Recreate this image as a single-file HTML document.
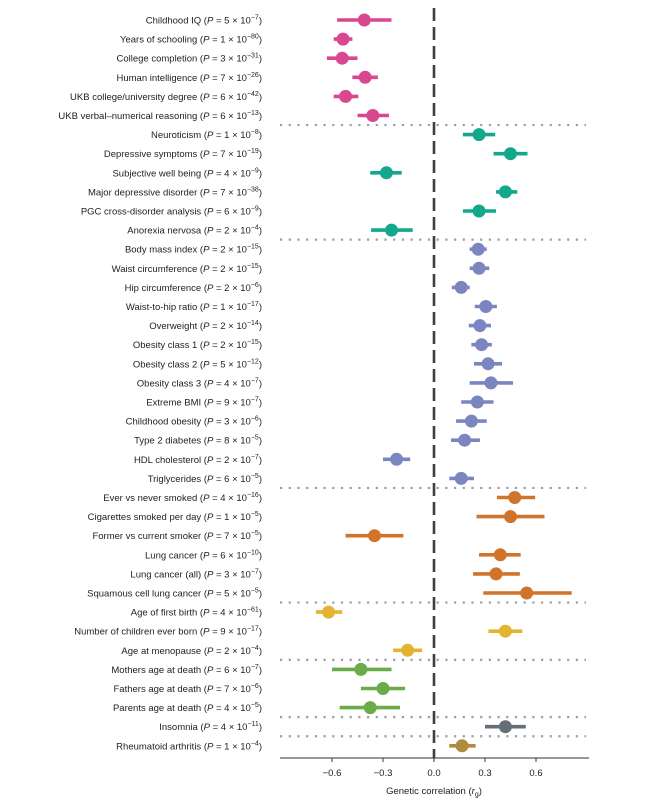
<!DOCTYPE html>
<html><head><meta charset="utf-8"><style>
body{margin:0;background:#fff;}
svg{display:block;font-family:"Liberation Sans",Arial,sans-serif;}
</style></head><body>
<svg id="chart" width="664" height="807" xmlns="http://www.w3.org/2000/svg"></svg>
<script>
const labels=["Childhood IQ","Years of schooling","College completion","Human intelligence","UKB college/university degree","UKB verbal–numerical reasoning","Neuroticism","Depressive symptoms","Subjective well being","Major depressive disorder","PGC cross-disorder analysis","Anorexia nervosa","Body mass index","Waist circumference","Hip circumference","Waist-to-hip ratio","Overweight","Obesity class 1","Obesity class 2","Obesity class 3","Extreme BMI","Childhood obesity","Type 2 diabetes","HDL cholesterol","Triglycerides","Ever vs never smoked","Cigarettes smoked per day","Former vs current smoker","Lung cancer","Lung cancer (all)","Squamous cell lung cancer","Age of first birth","Number of children ever born","Age at menopause","Mothers age at death","Fathers age at death","Parents age at death","Insomnia","Rheumatoid arthritis"];
const pMant=[5,1,3,7,6,6,1,7,4,7,6,2,2,2,2,1,2,2,5,4,9,3,8,2,6,4,1,7,6,3,5,4,9,2,6,7,4,4,1];
const pExp=[-7,-80,-31,-26,-42,-13,-8,-19,-9,-38,-9,-4,-15,-15,-6,-17,-14,-15,-12,-7,-7,-6,-5,-7,-5,-16,-5,-5,-10,-7,-5,-61,-17,-4,-7,-6,-5,-11,-4];
const rg=[-0.41,-0.535,-0.54,-0.405,-0.52,-0.36,0.265,0.45,-0.28,0.42,0.265,-0.25,0.26,0.265,0.16,0.305,0.27,0.28,0.318,0.335,0.255,0.22,0.18,-0.22,0.16,0.475,0.45,-0.35,0.39,0.365,0.545,-0.62,0.42,-0.155,-0.43,-0.3,-0.375,0.42,0.165];
const lo=[-0.57,-0.59,-0.63,-0.48,-0.59,-0.45,0.17,0.35,-0.375,0.365,0.17,-0.37,0.21,0.21,0.105,0.24,0.205,0.22,0.235,0.21,0.16,0.13,0.1,-0.30,0.09,0.37,0.25,-0.52,0.265,0.23,0.29,-0.695,0.32,-0.24,-0.6,-0.43,-0.555,0.3,0.09];
const hi=[-0.25,-0.48,-0.45,-0.33,-0.445,-0.265,0.36,0.55,-0.19,0.49,0.365,-0.125,0.31,0.325,0.21,0.37,0.335,0.34,0.4,0.465,0.35,0.31,0.27,-0.14,0.235,0.595,0.65,-0.18,0.51,0.505,0.81,-0.54,0.52,-0.07,-0.25,-0.17,-0.2,0.54,0.245];
const groupOf=[0,0,0,0,0,0,1,1,1,1,1,1,2,2,2,2,2,2,2,2,2,2,2,2,2,3,3,3,3,3,3,4,4,4,5,5,5,6,7];
const groupColors=["#d8478f","#13a88c","#7b86c0","#d0742b","#e3b42f","#6aab4a","#656e76","#b08a3e"];
const ticks=[-0.6,-0.3,0,0.3,0.6];
const tickLabels=["−0.6","−0.3","0.0","0.3","0.6"];

const NS="http://www.w3.org/2000/svg";
const svg=document.getElementById('chart');
const x=v=>434+v*170;
const y=i=>20+i*19.1;
function mk(tag,attrs,parent){const e=document.createElementNS(NS,tag);for(const k in attrs)e.setAttribute(k,attrs[k]);(parent||svg).appendChild(e);return e;}

// separators
for(let i=1;i<labels.length;i++){
  if(groupOf[i]!==groupOf[i-1]){
    const l=mk('line',{x1:280,x2:586,y1:y(i-0.5),y2:y(i-0.5),stroke:'#9a9ea3','stroke-width':2.2,'stroke-dasharray':'2.2 6.5'});
    
    
  }
}
// zero line
const z=mk('line',{x1:x(0),x2:x(0),y1:8,y2:758,stroke:'#3c4045','stroke-width':2.6,'stroke-dasharray':'13 6'});


// axis
const ax=mk('line',{x1:280,x2:589,y1:758,y2:758,stroke:'#333','stroke-width':1});


ticks.forEach((t,k)=>{
  const tl=mk('line',{x1:x(t),x2:x(t),y1:758,y2:762,stroke:'#333','stroke-width':1});
  
  
  const tx=mk('text',{x:x(t),y:776,'font-size':9.5,'text-anchor':'middle',fill:'#222'});
  tx.textContent=tickLabels[k];
  
  
});
const tt=mk('text',{x:x(0),y:794,'font-size':9.5,'text-anchor':'middle',fill:'#222'});


tt.innerHTML='Genetic correlation (<tspan font-style="italic">r</tspan><tspan font-size="7" dy="2.5">g</tspan><tspan dy="-2.5">)</tspan>';

labels.forEach((lab,i)=>{
  const c=groupColors[groupOf[i]];
  const t=mk('text',{x:262,y:y(i)+3.5,'font-size':9.5,'text-anchor':'end',fill:'#222'});
  
  
  t.innerHTML=lab+' (<tspan font-style="italic">P</tspan> = '+pMant[i]+' × 10<tspan font-size="7" dy="-4">'+String(pExp[i]).replace('-','−')+'</tspan><tspan dy="4">)</tspan>';
  const ci=mk('line',{x1:x(lo[i]),x2:x(hi[i]),y1:y(i),y2:y(i),stroke:c,'stroke-width':3.6});
  
  
  const d=mk('circle',{cx:x(rg[i]),cy:y(i),r:6.5,fill:c});
  
  
});
</script>
</body></html>
